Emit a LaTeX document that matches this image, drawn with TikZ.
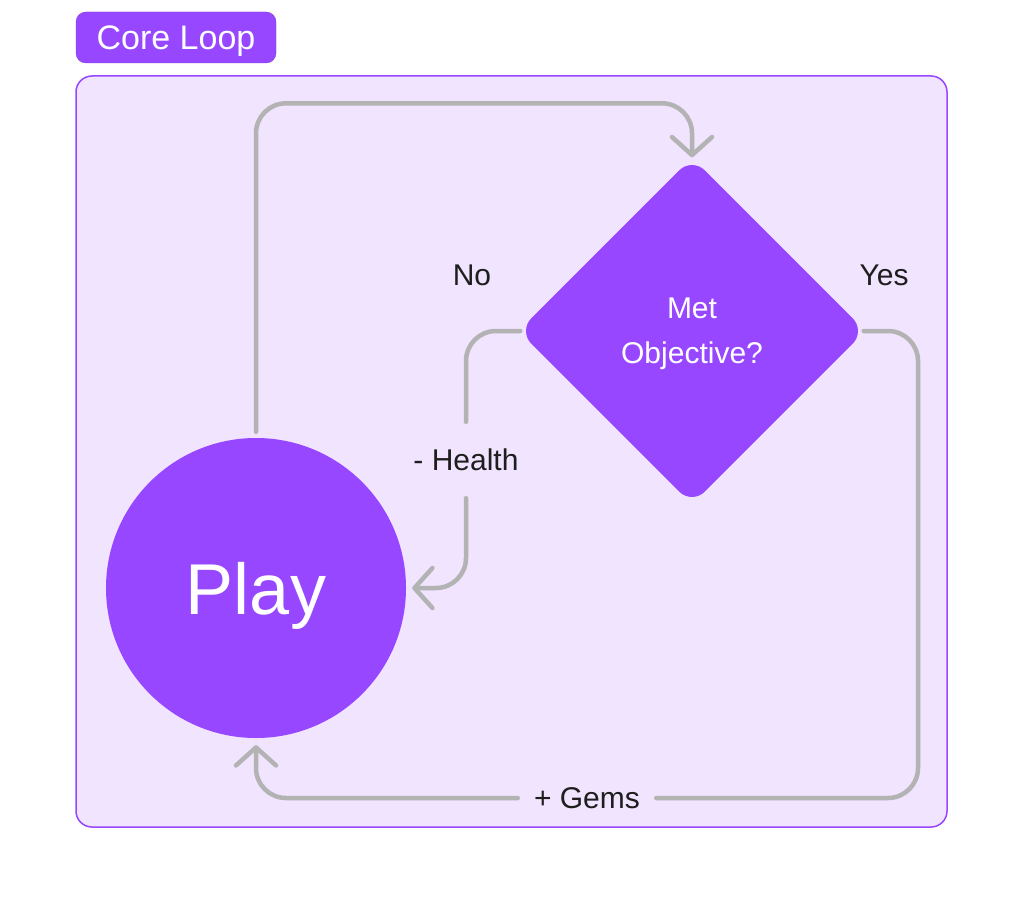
\documentclass[tikz,border=0pt]{standalone}
\usepackage{fontspec}
\setmainfont{Liberation Sans}
\usetikzlibrary{positioning, shapes.geometric, arrows.meta, calc}
\definecolor{lppurple}{HTML}{9747FF}
\definecolor{lpframe}{HTML}{F0E4FE}
\definecolor{lpgray}{HTML}{B3B3B3}
\definecolor{lptext}{HTML}{1E1E1E}

\begin{document}
\begin{tikzpicture}[x=1pt, y=-1pt,
    lbl/.style={text=lptext, font=\fontsize{30}{36}\selectfont, inner sep=0pt},
    link/.style={draw=lpgray, line width=4.5pt, line cap=round, rounded corners=30pt},
    flow/.style={link, -{Straight Barb[length=18pt, width=40pt, round]}}]
  \useasboundingbox[fill=white] (0,0) rectangle (1024,912);
  % frame and tag
  \node[draw=lppurple, fill=lpframe, line width=1.5pt, rounded corners=16pt,
    minimum width=871pt, minimum height=751pt] (frame) at (511.5,451.5) {};
  \node[fill=lppurple, draw=lppurple!85!black, rounded corners=10pt,
    minimum width=200pt, minimum height=51pt, text=white, text depth=0pt,
    font=\fontsize{34}{40}\selectfont] (tag) at (176,37.5) {Core Loop};
  % main nodes
  \node[circle, fill=lppurple, minimum size=300pt, inner sep=0pt, text=white,
    text depth=0pt, font=\fontsize{72}{80}\selectfont] (play) at (256,588) {Play};
  \node[diamond, fill=lppurple, minimum width=347pt, minimum height=347pt,
    inner sep=0pt, rounded corners=18pt, text=white, align=center, text depth=0pt,
    font=\fontsize{30}{45}\selectfont] (check) at (692,331) {Met\\Objective?};
  % labels
  \node[lbl] (no) at (472,275) {No};
  \node[lbl] (yes) at (884,275) {Yes};
  \node[lbl, minimum height=76pt] (health) at (466,460) {- Health};
  \node[lbl, minimum width=138pt] (gems) at (587,798) {+ Gems};
  \coordinate (turn) at (918,798);
  % connectors
  \draw[flow] ([yshift=6pt]play.north) |- ([yshift=54pt]check.north)
    -- (check.north);
  \draw[link] ([xshift=2pt]check.west) -| (health.north);
  \draw[flow] (health.south) |- ([xshift=6pt]play.east);
  \draw[link] ([xshift=-2pt]check.east) -| (turn) -- (gems.east);
  \draw[flow] (gems.west) -| ([yshift=-7pt]play.south);
\end{tikzpicture}
\end{document}
